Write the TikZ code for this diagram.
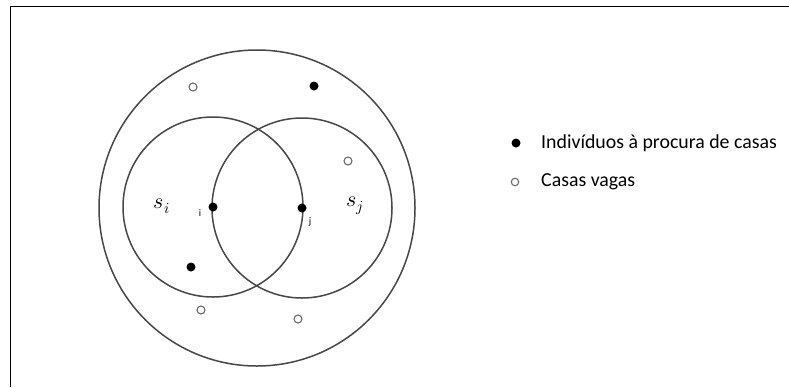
\documentclass[tikz,border=0pt]{standalone}
\usepackage{fontspec}
\setmainfont{Carlito}
\usepackage{unicode-math}
\setmathfont{Latin Modern Math}
\begin{document}
\begin{tikzpicture}[x=1bp,y=-1bp,
  ring/.style={circle,draw=black!72,line width=1.5bp,inner sep=0pt},
  person/.style={circle,fill=black,inner sep=0pt,minimum size=9bp},
  vacant/.style={circle,draw=black!58,fill=white,line width=1.1bp,inner sep=0pt,minimum size=8bp},
  setlabel/.style={font=\fontsize{22}{24}\selectfont},
  tag/.style={font=\fontsize{10}{11}\selectfont,inner sep=0pt},
  legendtext/.style={anchor=west,inner sep=0pt,font=\fontsize{19.9}{23}\selectfont}]
\useasboundingbox (0,0) rectangle (789,387);
% open frame edges
\draw[line width=1.2bp] (10.5,387) -- (10.5,6.5) -- (789,6.5);

% region and the two neighbourhoods
\node[ring,minimum size=316bp] (outer) at (257,208) {};
\node[ring,minimum size=180bp] (left) at (213,207) {};
\node[ring,minimum size=180bp] (right) at (302,208) {};

% the two searchers
\node[person] (pi) at (213,207) {};
\node[person] (pj) at (302,208) {};
\node[tag] (ti) at (200,213) {i};
\node[tag] (tj) at (310,222) {j};
\node[setlabel] (si) at (162,206) {$s_i$};
\node[setlabel] (sj) at (355,206) {$s_j$};

% other searchers and vacant houses
\node[person] (p1) at (314,86) {};
\node[person] (p2) at (191,267) {};
\node[vacant] (v1) at (193,87) {};
\node[vacant] (v2) at (348,161) {};
\node[vacant] (v3) at (201,310) {};
\node[vacant] (v4) at (298,319) {};

% legend
\node[person] (lp) at (516,143) {};
\node[vacant,minimum size=7.5bp] (lv) at (515,182) {};
\node[legendtext] (lpt) at (541,143) {Indivíduos à procura de casas};
\node[legendtext] (lvt) at (541,182) {Casas vagas};
\end{tikzpicture}
\end{document}
